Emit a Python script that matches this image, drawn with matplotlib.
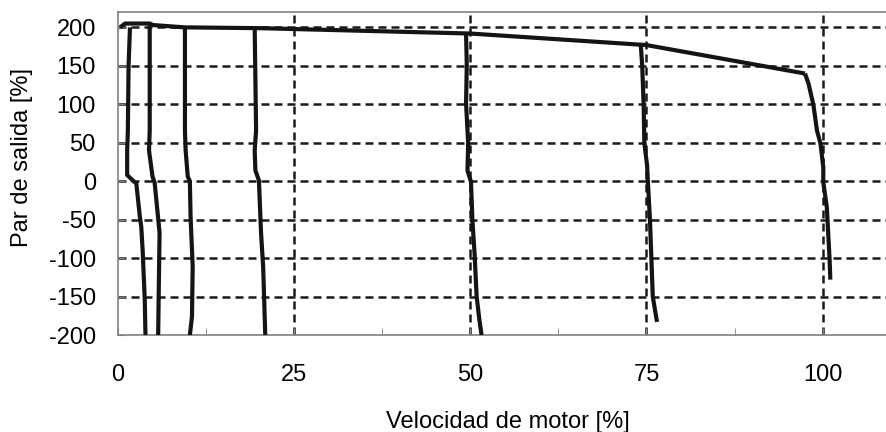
import matplotlib
matplotlib.use("Agg")
import matplotlib.pyplot as plt

plt.rcParams['font.family'] = ['Liberation Sans', 'DejaVu Sans']

# ---- data ----
x_ticks = [0, 25, 50, 75, 100]
y_ticks = [-200, -150, -100, -50, 0, 50, 100, 150, 200]
x_minor = [12.5, 37.5, 62.5, 87.5]

env_speed = [0.3, 1.0, 4.5, 5.0, 9.5, 20.0, 50.0, 75.0, 97.5]
env_torque = [200, 205, 205, 203, 200, 199, 192, 177, 140]

c2_speed = [1.7, 1.5, 1.4, 1.3, 1.3, 1.3, 2.1, 2.6, 3.1, 3.3, 3.5, 3.8, 3.9]
c2_torque = [200, 150, 66, 40, 14, 8, 1, -3, -46, -59, -90, -155, -200]

c5_speed = [4.5, 4.5, 4.5, 4.4, 4.9, 5.2, 5.9, 5.8, 5.7]
c5_torque = [203, 150, 66, 40, 6, -2, -67, -132, -200]

c10_speed = [9.5, 9.5, 9.6, 9.9, 10.2, 10.3, 10.6, 10.5, 10.2]
c10_torque = [200, 66, 40, 6, 0, -46, -111, -176, -200]

c20_speed = [19.4, 19.6, 19.4, 19.5, 20.0, 20.3, 20.6, 20.9]
c20_torque = [199, 66, 40, 14, 1, -67, -111, -200]

c50_speed = [49.4, 49.5, 49.4, 49.7, 49.6, 50.1, 50.3, 50.6, 50.9, 51.3, 51.6]
c50_torque = [192, 151, 101, 49, 14, -1, -51, -93, -150, -181, -200]

c75_speed = [74.2, 74.4, 74.6, 74.7, 75.1, 75.2, 75.5, 75.7, 75.9, 76.5]
c75_torque = [177, 150, 100, 50, 20, 0, -50, -100, -150, -183]

c100_speed = [97.5, 98.0, 98.7, 99.2, 99.7, 100.1, 100.1, 100.6, 100.7, 101.0, 101.1]
c100_torque = [140, 127, 99, 66, 49, 18, -1, -34, -51, -103, -128]

curves = [
    (env_speed, env_torque),
    (c2_speed, c2_torque),
    (c5_speed, c5_torque),
    (c10_speed, c10_torque),
    (c20_speed, c20_torque),
    (c50_speed, c50_torque),
    (c75_speed, c75_torque),
    (c100_speed, c100_torque),
]

# ---- figure ----
fig = plt.figure(figsize=(8.86, 4.32), dpi=100)
ax = fig.add_axes([118/886, 97/432, 1 - 118/886, 323/432])
ax.set_xlim(0, 109)
ax.set_ylim(-200, 220)

dash = (0, (3.2, 2.0))
for yv in y_ticks:
    if yv > -200:
        ax.axhline(yv, color='#1a1a1a', lw=1.8, linestyle=dash, zorder=1)
for xv in x_ticks:
    if xv > 0:
        ax.axvline(xv, color='#1a1a1a', lw=1.8, linestyle=dash, zorder=1)

for xs, ys in curves:
    ax.plot(xs, ys, color='#141414', lw=3.0, solid_capstyle='butt',
            solid_joinstyle='round', zorder=3)

ax.set_xticks(x_ticks)
ax.set_xticks(x_minor, minor=True)
ax.set_yticks(y_ticks)
ax.set_xticklabels([str(v) for v in x_ticks], fontsize=17)
ax.set_yticklabels([str(v) for v in y_ticks], fontsize=17)
ax.tick_params(axis='x', which='both', direction='in', length=5, color='#808080', pad=21)
ax.tick_params(axis='y', which='both', direction='in', length=5, color='#808080', pad=16)

for side in ['left', 'top', 'bottom']:
    ax.spines[side].set_color('#808080')
    ax.spines[side].set_linewidth(1.2)
ax.spines['right'].set_visible(False)

ax.set_xlabel('Velocidad de motor [%]', fontsize=17)
ax.set_ylabel('Par de salida [%]', fontsize=17)
ax.xaxis.set_label_coords(0.508, -0.236)
ax.yaxis.set_label_coords(-0.111, 0.548)

fig.savefig('out.png', dpi=100)
